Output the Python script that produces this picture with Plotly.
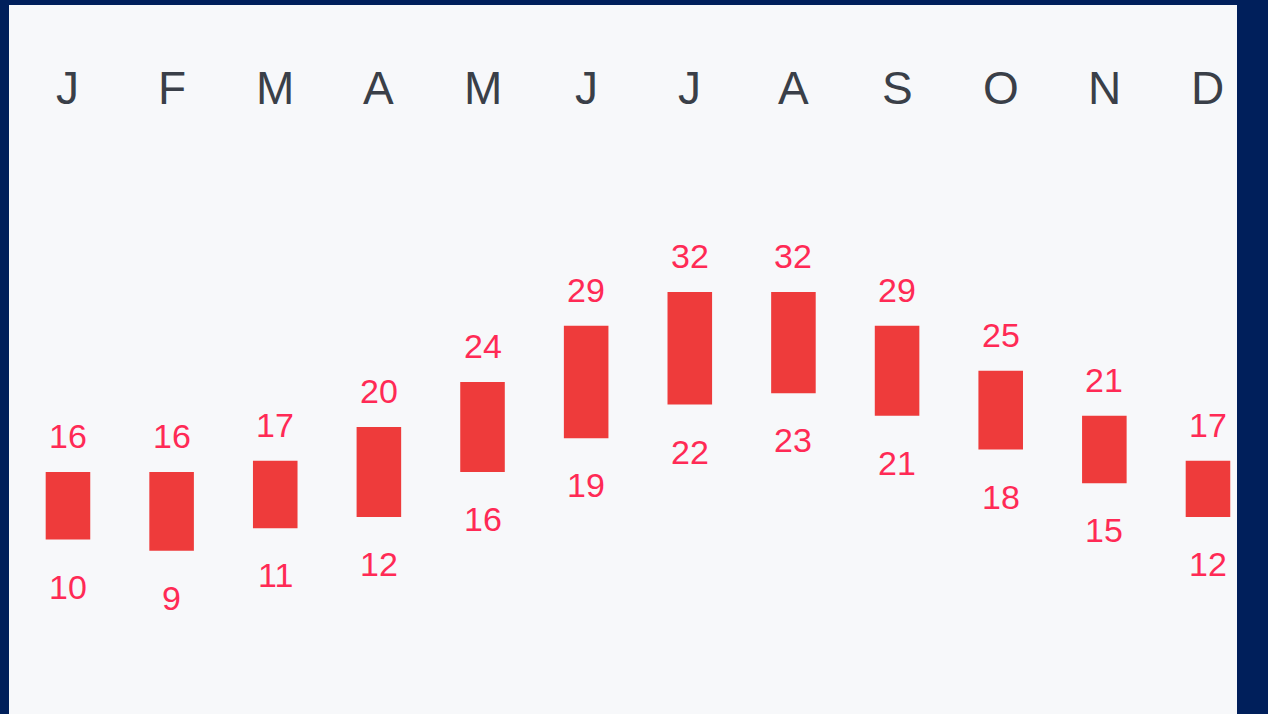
import plotly.graph_objects as go

# Monthly temperature range (°C): daily low and high per month
months = ["J", "F", "M", "A", "M", "J", "J", "A", "S", "O", "N", "D"]
highs = [16, 16, 17, 20, 24, 29, 32, 32, 29, 25, 21, 17]
lows = [10, 9, 11, 12, 16, 19, 22, 23, 21, 18, 15, 12]

xs = list(range(len(months)))
spans = [h - l for h, l in zip(highs, lows)]

fig = go.Figure()
fig.add_trace(go.Bar(
    x=xs, y=spans, base=lows, width=0.43,
    marker=dict(color="#ee3b3b", line=dict(width=0)),
    hoverinfo="skip",
))

label_font = dict(family="Liberation Sans, Arial, sans-serif", size=34, color="#ff2a55")
annotations = []
for x, h, l, m in zip(xs, highs, lows, months):
    annotations.append(dict(x=x, y=h, xref="x", yref="y", text=str(h),
                            showarrow=False, yshift=36, font=label_font))
    annotations.append(dict(x=x, y=l, xref="x", yref="y", text=str(l),
                            showarrow=False, yshift=-47, font=label_font))
    annotations.append(dict(x=x, y=50.1, xref="x", yref="y", text=m,
                            showarrow=False,
                            font=dict(family="Liberation Sans, Arial, sans-serif",
                                      size=46, color="#3a3f48")))

fig.update_layout(
    width=1268, height=714,
    margin=dict(l=9, r=31, t=5, b=0),
    paper_bgcolor="#001f5b",
    plot_bgcolor="#f7f8fa",
    showlegend=False,
    annotations=annotations,
    xaxis=dict(range=[-0.569, 11.28], visible=False, fixedrange=True),
    yaxis=dict(range=[-5.51, 57.51], visible=False, fixedrange=True),
)

fig.write_html("out.html", config={"displayModeBar": False})
